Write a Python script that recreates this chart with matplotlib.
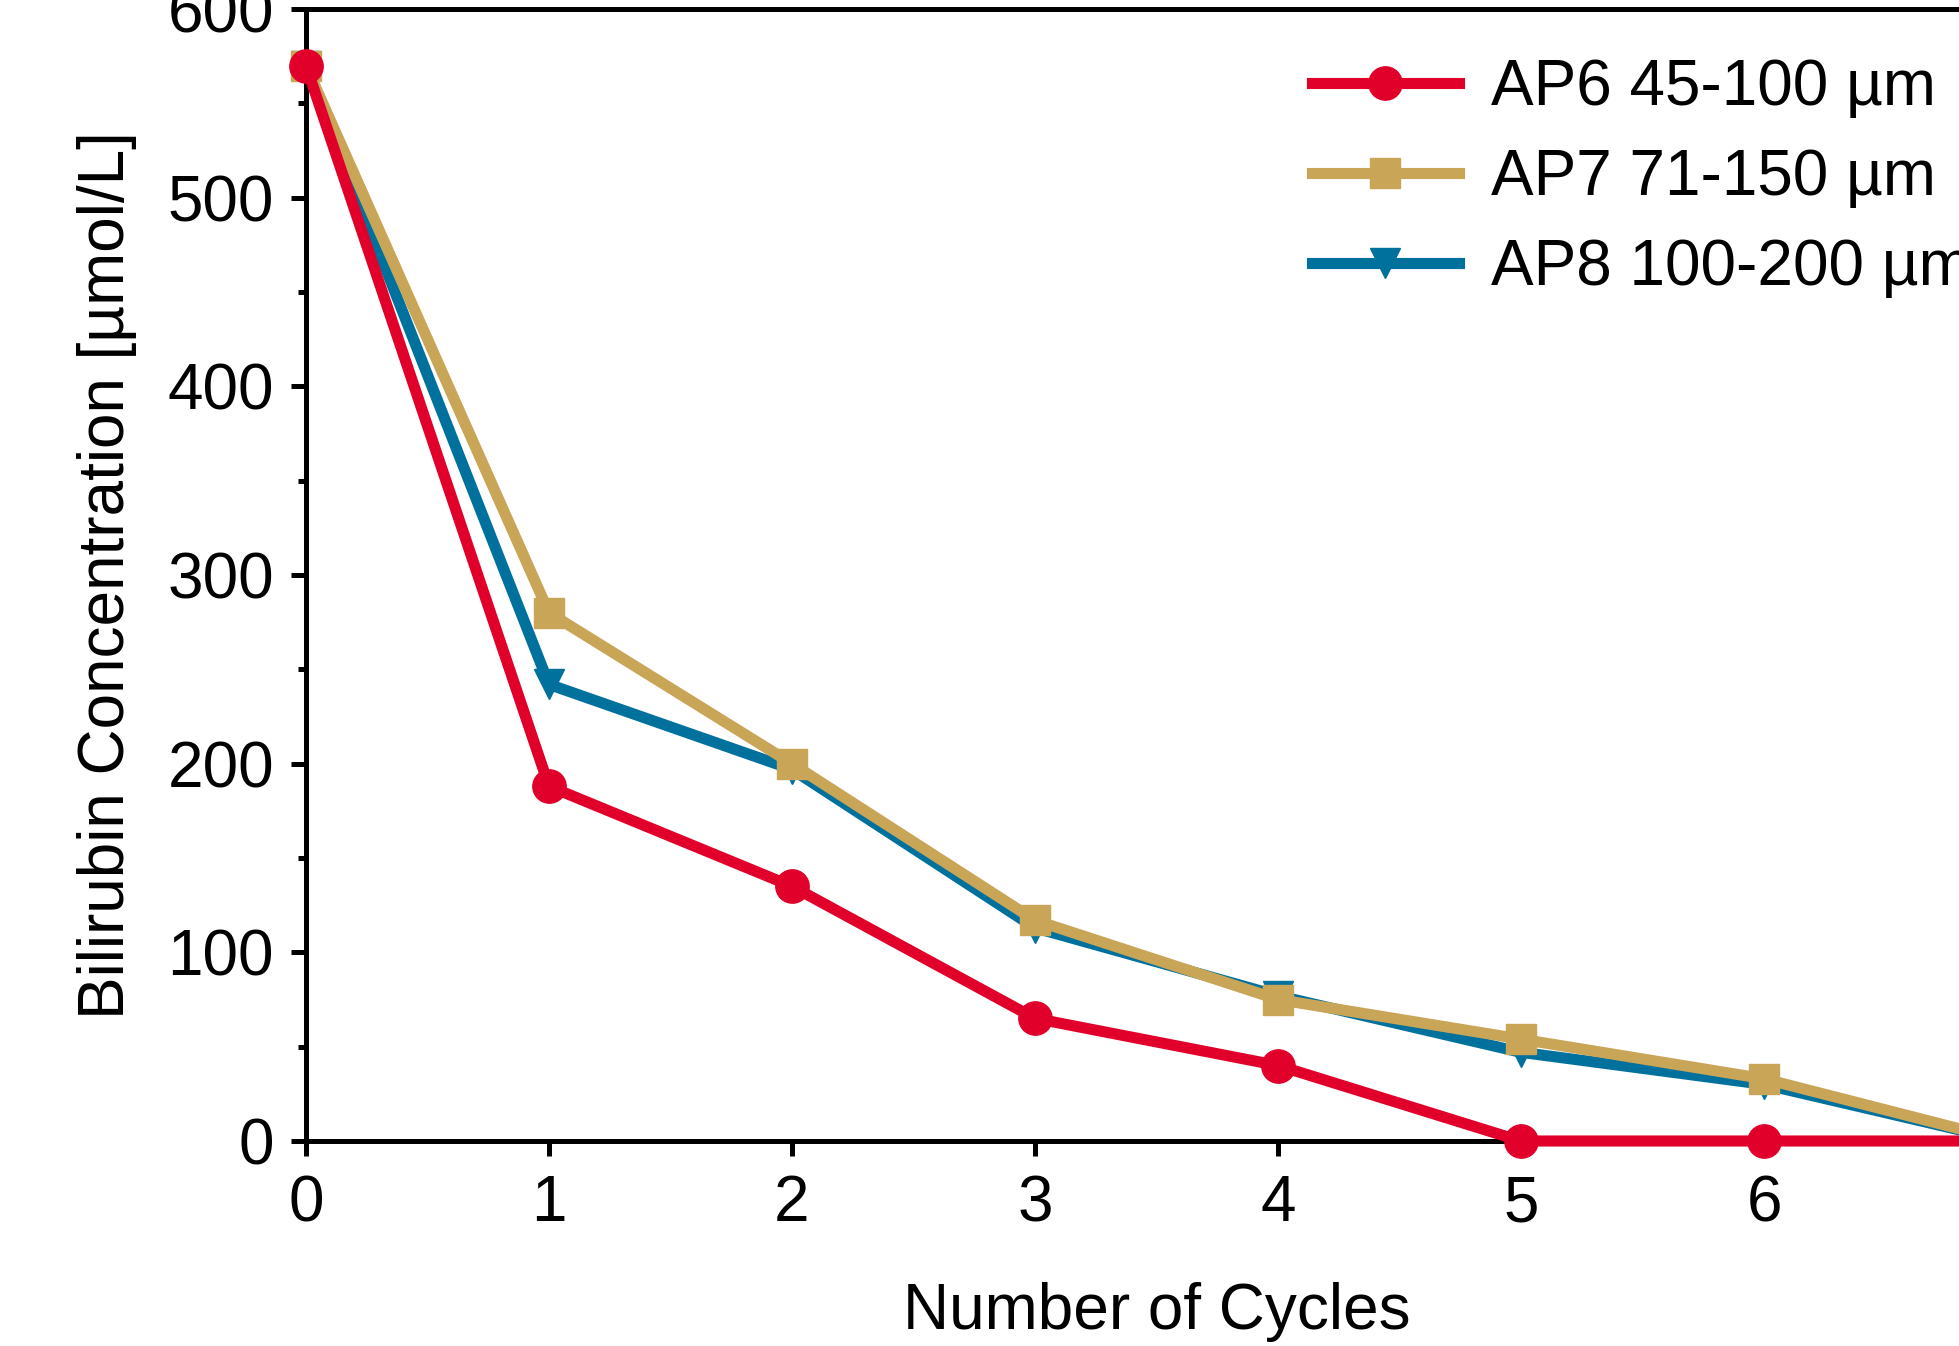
import matplotlib.pyplot as plt
import numpy as np

plt.rcParams['font.family'] = ['Liberation Sans', 'DejaVu Sans']

cycles = [0, 1, 2, 3, 4, 5, 6, 7]
ap6 = [570, 188, 135, 65, 40, 0, 0, 0]
ap7 = [570, 280, 200, 117, 75, 54, 33, 0]
ap8 = [570, 242, 197, 113, 77, 47, 30, 0]
labels = ['AP6 45-100 µm', 'AP7 71-150 µm', 'AP8 100-200 µm']

red = '#E1002A'
tan = '#C9A557'
blue = '#00709D'

W, H = 1959, 1346
fig = plt.figure(figsize=(W/100, H/100), dpi=100)
# axes runs off the right edge of the figure, like the cropped original
ax = fig.add_axes([306/W, (H-1141)/H, 1701/W, 1132/H])

l8, = ax.plot(cycles, ap8, color=blue, lw=8, marker='v', ms=22, clip_on=False, zorder=3)
l7, = ax.plot(cycles, ap7, color=tan, lw=8, marker='s', ms=21, clip_on=False, zorder=4)
l6, = ax.plot(cycles, ap6, color=red, lw=8, marker='o', ms=24, clip_on=False, zorder=5)

ax.set_xlim(0, 7)
ax.set_ylim(0, 600)
ax.set_xticks(range(0, 8))
ax.set_yticks(range(0, 601, 100))
ax.set_yticks(range(50, 600, 100), minor=True)

for s in ax.spines.values():
    s.set_linewidth(3.6)
ax.tick_params(axis='both', which='major', direction='out', length=11, width=3.6, labelsize=46)
ax.tick_params(axis='y', which='minor', direction='out', length=6, width=3.6)
ax.tick_params(axis='x', pad=13)
ax.tick_params(axis='y', pad=12)

ax.set_xlabel('Number of Cycles', fontsize=46, labelpad=34)
ax.set_ylabel('Bilirubin Concentration [µmol/L]', fontsize=46, labelpad=22)

ax.legend([l6, l7, l8], labels, loc='upper left', bbox_to_anchor=(1312/W, 1-58/H),
          bbox_transform=fig.transFigure, frameon=False, fontsize=46,
          handlelength=2.3, handletextpad=0.5, labelspacing=0.47,
          borderpad=0, borderaxespad=0)

fig.savefig('out.png', dpi=100)
